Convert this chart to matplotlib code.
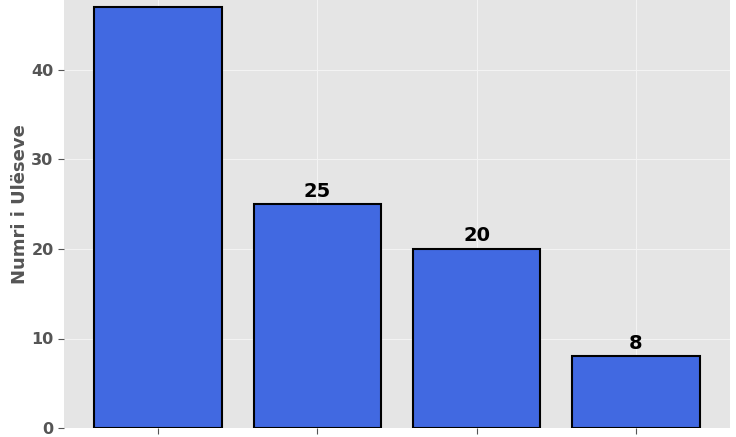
import matplotlib
matplotlib.use("Agg")
import matplotlib.pyplot as plt

plt.style.use("ggplot")
plt.rcParams['font.family'] = ['DejaVu Sans']

categories = ["Partia A", "Partia B", "Partia C", "Partia D"]
seats = [47, 25, 20, 8]
yticks = [0, 10, 20, 30, 40]

fig = plt.figure(figsize=(7.36, 4.37), dpi=100)
ax = fig.add_axes([64/736, 9/437, 666/736, 447.5/437])
ax.set_facecolor("#E5E5E5")

bars = ax.bar(categories, seats, width=0.8, color="#4169E1", edgecolor="black", linewidth=1.5, zorder=3)
for b, v in zip(bars, seats):
    ax.text(b.get_x() + b.get_width()/2, v + 0.4, str(v), ha="center", va="bottom",
            fontsize=14, fontweight="bold", color="black", zorder=4)

ax.set_ylim(0, 50)
ax.set_xlim(-0.59, 3.59)
ax.set_yticks(yticks)
ax.grid(True, color="#F4F4F4", linewidth=0.7, zorder=0)
ax.set_axisbelow(True)
ax.tick_params(axis="y", labelsize=11.5, colors="#555555", length=4)
ax.tick_params(axis="x", labelsize=11.5, colors="#555555", length=4)
for lab in ax.get_yticklabels() + ax.get_xticklabels():
    lab.set_fontweight("bold")
ax.set_ylabel("Numri i Ulëseve", fontsize=13, fontweight="bold", color="#555555", labelpad=2)
for s in ax.spines.values():
    s.set_visible(False)

fig.savefig("out.png", dpi=100)
